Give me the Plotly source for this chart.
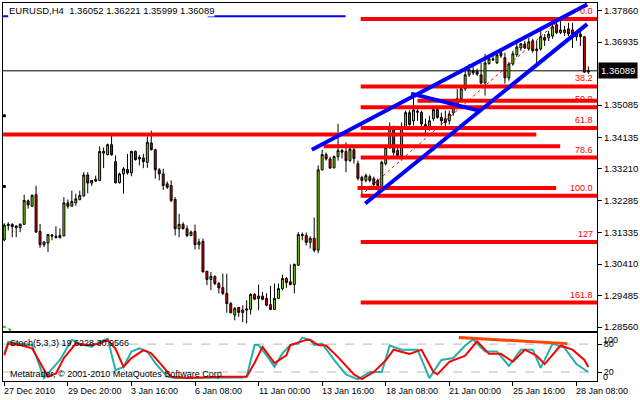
import plotly.graph_objects as go

# ---------------- data ----------------
bars = list(range(148))
opens = [1.3112,1.3154,1.3158,1.3148,1.3148,1.3158,1.3227,1.3211,1.3245,1.3137,
         1.3098,1.3103,1.3127,1.3123,1.3119,1.3124,1.3221,1.3211,1.3221,1.3231,
         1.3241,1.3303,1.3279,1.3285,1.3287,1.3367,1.3363,1.3392,1.3342,1.3280,
         1.3306,1.3319,1.3309,1.3372,1.3350,1.3353,1.3340,1.3397,1.3377,1.3318,
         1.3306,1.3277,1.3272,1.3231,1.3145,1.3158,1.3145,1.3125,1.3137,1.3098,
         1.3108,1.3020,1.2996,1.3005,1.2984,1.2972,1.2955,1.2925,1.2891,1.2914,
         1.2899,1.2906,1.2908,1.2952,1.2940,1.2947,1.2940,1.2922,1.2908,1.2940,
         1.2969,1.2999,1.2989,1.2981,1.3038,1.3128,1.3125,1.3105,1.3117,1.3082,
         1.3318,1.3363,1.3350,1.3324,1.3357,1.3375,1.3372,1.3345,1.3377,1.3336,
         1.3296,1.3287,1.3298,1.3292,1.3287,1.3267,1.3336,1.3384,1.3442,1.3375,
         1.3360,1.3442,1.3486,1.3462,1.3487,1.3487,1.3451,1.3443,1.3468,1.3495,
         1.3472,1.3468,1.3462,1.3486,1.3506,1.3527,1.3556,1.3597,1.3609,1.3607,
         1.3597,1.3574,1.3630,1.3644,1.3632,1.3662,1.3647,1.3588,1.3629,1.3656,
         1.3676,1.3688,1.3673,1.3697,1.3668,1.3673,1.3707,1.3706,1.3711,1.3744,
         1.3721,1.3721,1.3732,1.3729,1.3709,1.3717,1.3709,1.36052]
highs = [1.3161,1.3164,1.3161,1.3155,1.3161,1.3245,1.3231,1.3246,1.3271,1.3159,
         1.3108,1.3129,1.3128,1.3152,1.3146,1.3238,1.3231,1.3257,1.3248,1.3257,
         1.3311,1.3311,1.3288,1.3301,1.3387,1.3384,1.3395,1.3421,1.3360,1.3310,
         1.3326,1.3365,1.3374,1.3375,1.3362,1.3365,1.3416,1.3433,1.3380,1.3323,
         1.3321,1.3284,1.3287,1.3238,1.3189,1.3164,1.3155,1.3140,1.3157,1.3116,
         1.3116,1.3021,1.3018,1.3008,1.2989,1.3013,1.3013,1.2930,1.2915,1.2915,
         1.2920,1.2935,1.2955,1.2956,1.2981,1.2959,1.2955,1.2977,1.2984,1.2984,
         1.3010,1.3003,1.3040,1.3043,1.3135,1.3134,1.3134,1.3123,1.3178,1.3331,
         1.3377,1.3369,1.3357,1.3360,1.3453,1.3379,1.3399,1.3384,1.3389,1.3345,
         1.3301,1.3307,1.3304,1.3298,1.3292,1.3345,1.3389,1.3457,1.3448,1.3383,
         1.3457,1.3492,1.3493,1.3533,1.3506,1.3492,1.3468,1.3477,1.3503,1.3503,
         1.3486,1.3492,1.3492,1.3509,1.3556,1.3562,1.3609,1.3629,1.3621,1.3615,
         1.3632,1.3659,1.3650,1.3659,1.3662,1.3668,1.3662,1.3635,1.3668,1.3697,
         1.3691,1.3697,1.3706,1.3703,1.3697,1.3726,1.3717,1.3726,1.3750,1.3757,
         1.3760,1.3741,1.3750,1.3750,1.3726,1.3726,1.3711,1.36221]
lows = [1.3108,1.3140,1.3120,1.3120,1.3135,1.3156,1.3204,1.3210,1.3134,1.3089,
        1.3091,1.3077,1.3111,1.3116,1.3116,1.3123,1.3204,1.3210,1.3213,1.3228,
        1.3240,1.3249,1.3270,1.3282,1.3285,1.3323,1.3360,1.3360,1.3278,1.3278,
        1.3248,1.3304,1.3299,1.3345,1.3331,1.3323,1.3324,1.3375,1.3292,1.3287,
        1.3259,1.3262,1.3223,1.3125,1.3120,1.3143,1.3120,1.3123,1.3084,1.3084,
        1.3017,1.2979,1.2964,1.2979,1.2955,1.2950,1.2898,1.2897,1.2876,1.2886,
        1.2871,1.2867,1.2893,1.2935,1.2906,1.2935,1.2917,1.2906,1.2906,1.2938,
        1.2964,1.2971,1.2979,1.2955,1.3036,1.3111,1.3096,1.3087,1.3076,1.3073,
        1.3316,1.3345,1.3322,1.3322,1.3345,1.3351,1.3311,1.3342,1.3336,1.3287,
        1.3243,1.3281,1.3281,1.3269,1.3257,1.3263,1.3331,1.3380,1.3360,1.3351,
        1.3345,1.3439,1.3448,1.3448,1.3462,1.3445,1.3419,1.3433,1.3462,1.3468,
        1.3448,1.3439,1.3451,1.3477,1.3503,1.3524,1.3550,1.3591,1.3597,1.3594,
        1.3568,1.3536,1.3627,1.3638,1.3629,1.3647,1.3571,1.3580,1.3624,1.3650,
        1.3668,1.3673,1.3668,1.3662,1.3632,1.3668,1.3682,1.3697,1.3703,1.3717,
        1.3717,1.3711,1.3711,1.3676,1.3697,1.3682,1.3603,1.35999]
closes = [1.3156,1.3158,1.3151,1.3153,1.3158,1.3228,1.3215,1.3243,1.3135,1.3098,
          1.3106,1.3128,1.3124,1.3119,1.3125,1.3221,1.3211,1.3225,1.3233,1.3243,
          1.3303,1.3279,1.3287,1.3290,1.3372,1.3372,1.3392,1.3362,1.3280,1.3306,
          1.3321,1.3309,1.3372,1.3348,1.3355,1.3342,1.3399,1.3377,1.3318,1.3306,
          1.3272,1.3267,1.3228,1.3145,1.3158,1.3145,1.3125,1.3135,1.3098,1.3106,
          1.3018,1.2996,1.3005,1.2984,1.2971,1.2955,1.2925,1.2898,1.2911,1.2899,
          1.2906,1.2909,1.2952,1.2938,1.2947,1.2938,1.2920,1.2908,1.2940,1.2969,
          1.2999,1.2987,1.2981,1.3040,1.3128,1.3125,1.3105,1.3117,1.3082,1.3318,
          1.3363,1.3350,1.3323,1.3357,1.3375,1.3370,1.3345,1.3379,1.3351,1.3293,
          1.3287,1.3301,1.3287,1.3275,1.3272,1.3340,1.3384,1.3443,1.3369,1.3360,
          1.3442,1.3486,1.3451,1.3494,1.3490,1.3453,1.3448,1.3462,1.3495,1.3472,
          1.3462,1.3457,1.3482,1.3503,1.3527,1.3556,1.3597,1.3612,1.3603,1.3599,
          1.3573,1.3632,1.3644,1.3641,1.3656,1.3653,1.3588,1.3629,1.3659,1.3679,
          1.3688,1.3676,1.3694,1.3668,1.3673,1.3709,1.3699,1.3717,1.3738,1.3721,
          1.3729,1.3729,1.3717,1.3717,1.3717,1.3709,1.3605,1.36089]

price_ticks = [1.37860, 1.36935, 1.35085, 1.34135, 1.33210, 1.32285,
               1.31335, 1.30410, 1.29485, 1.28560]
last_price = 1.36089

time_tick_bars = [0, 16, 32, 48, 64, 80, 96, 112, 128, 144]
time_tick_labels = ["27 Dec 2010", "29 Dec 20:00", "3 Jan 16:00", "6 Jan 08:00",
                    "11 Jan 00:00", "13 Jan 16:00", "18 Jan 08:00", "21 Jan 00:00",
                    "25 Jan 16:00", "28 Jan 08:00"]

# Fibonacci levels (drawn from the low of bar ~90 to the high of bar ~140)
fib_names = ["0.0", "38.2", "50.0", "61.8", "78.6", "100.0", "127", "161.8"]
fib_levels = [1.3761, 1.3563, 1.3502, 1.3441, 1.3354, 1.3242, 1.3106, 1.2928]
fib_start_bar, fib_end_bar = 89.7, 140

# other horizontal red lines: price, start bar, end bar
hline_prices = [1.3521, 1.3422, 1.3387, 1.3265]
hline_starts = [104, -0.3, 80.4, 88.9]
hline_ends = [149.2, 133.9, 139.9, 138.9]

# blue trend lines: (bar0, price0, bar1, price1)
trend_x0 = [77.4, 90.85, 102.4]
trend_y0 = [1.3377, 1.3219, 1.3542]
trend_x1 = [146.7, 146.7, 119.4]
trend_y1 = [1.3804, 1.3746, 1.3492]

# stochastic (5,3,3)
stoch_k_bars = [0,1,4,7,10,14,17,19,22,24,26,28,30,32,34,36,38,41,43,50,55,60,61,63,64,
                66,68,70,72,74,75,77,78,80,83,86,89,92,95,97,100,104,107,110,113,116,
                118,121,124,127,130,133,135,138,141,144,147]
stoch_k = [60,85,81,78,7,46,89,81,74,85,92,24,31,64,71,64,39,10,7,8,8,8,10,78,78,
           56,31,60,78,81,94,89,78,81,46,15,4,20,20,77,68,68,7,46,50,77,
           90,64,64,33,68,68,29,81,72,37,19.6]
stoch_d_bars = [0,1,4,7,11,13,15,18,21,24,26,28,30,32,35,37,40,42,46,55,61,63,65,67,68,
                71,72,76,77,79,81,84,88,90,93,96,98,102,105,108,109,112,116,119,122,
                125,128,131,134,136,140,143,146,147]
stoch_d = [56,81,78,71,10,17,50,81,78,81,89,70,31,50,67,60,31,10,7,10,10,40,74,49,39,
           56,78,89,89,78,77,52,15,5,20,45,68,59,68,20,15,42,55,86,59,
           59,42,68,55,37,77,68,46,31]
stoch_levels = [80, 20]

# ---------------- figure ----------------
X0, X1 = -0.325, 149.175
FONT = "Liberation Sans, Arial, sans-serif"

fig = go.Figure()
fig.add_trace(go.Candlestick(
    x=bars, open=opens, high=highs, low=lows, close=closes,
    xaxis="x", yaxis="y", whiskerwidth=0,
    increasing=dict(line=dict(color="black", width=1), fillcolor="#80E000"),
    decreasing=dict(line=dict(color="black", width=1), fillcolor="#DD0000"),
    hoverinfo="skip"))

# little markers at the left edge
fig.add_trace(go.Scatter(x=[0, 0], y=[1.3477, 1.3269], mode="markers",
                         marker=dict(symbol="square", size=3, color="black"),
                         xaxis="x", yaxis="y", hoverinfo="skip"))
fig.add_trace(go.Scatter(x=[-0.3, 1.7], y=[1.2858, 1.2847], mode="lines",
                         line=dict(color="#22BB22", width=2, dash="dot"),
                         xaxis="x", yaxis="y", hoverinfo="skip"))

fig.add_trace(go.Scatter(x=stoch_k_bars, y=stoch_k, mode="lines",
                         line=dict(color="#20B2AA", width=2), xaxis="x2", yaxis="y2",
                         hoverinfo="skip"))
fig.add_trace(go.Scatter(x=stoch_d_bars, y=stoch_d, mode="lines",
                         line=dict(color="#FF0000", width=2), xaxis="x2", yaxis="y2",
                         hoverinfo="skip"))

shapes = []
# current price line
shapes.append(dict(type="line", xref="x", yref="y", x0=X0, x1=X1, y0=last_price,
                   y1=last_price, line=dict(color="black", width=1), layer="below"))
# red horizontal lines
for p, s, e in zip(hline_prices, hline_starts, hline_ends):
    shapes.append(dict(type="line", xref="x", yref="y", x0=s, x1=e, y0=p, y1=p,
                       line=dict(color="#FF0000", width=4)))
for p in fib_levels:
    shapes.append(dict(type="line", xref="x", yref="y", x0=fib_start_bar, x1=X1,
                       y0=p, y1=p, line=dict(color="#FF0000", width=4)))
# fib diagonal
shapes.append(dict(type="line", xref="x", yref="y", x0=fib_start_bar, x1=fib_end_bar,
                   y0=fib_levels[5], y1=fib_levels[0],
                   line=dict(color="#FF0000", width=1, dash="dot")))
# blue trend lines
for a, b, c, d in zip(trend_x0, trend_y0, trend_x1, trend_y1):
    shapes.append(dict(type="line", xref="x", yref="y", x0=a, y0=b, x1=c, y1=d,
                       line=dict(color="#0000FF", width=4)))
# thin blue line near the top
for a, b in [(-0.3, 1.0), (51.2, 85.9)]:
    shapes.append(dict(type="line", xref="x", yref="y", x0=a, x1=b, y0=1.3769,
                       y1=1.3769, line=dict(color="#0000FF", width=2)))
# stochastic levels
for lv in stoch_levels:
    shapes.append(dict(type="line", xref="x2", yref="y2", x0=X0, x1=X1, y0=lv, y1=lv,
                       line=dict(color="#B8B8B8", width=1, dash="dash"), layer="below"))
shapes.append(dict(type="line", xref="x2", yref="y2", x0=114.4, x1=141.7, y0=94, y1=81,
                   line=dict(color="#FF4500", width=3)))

annotations = []
annotations.append(dict(xref="paper", yref="paper", x=0.0084, y=0.9974,
                        xanchor="left", yanchor="top", showarrow=False,
                        text="EURUSD,H4 \u00a01.36052 1.36221 1.35999 1.36089",
                        font=dict(size=9.5, color="black", family=FONT),
                        bgcolor="white", borderpad=0))
for name, p in zip(fib_names, fib_levels):
    annotations.append(dict(xref="x", yref="y", x=148.7, y=p, xanchor="right",
                            yanchor="bottom", yshift=1, showarrow=False, text=name,
                            font=dict(size=9, color="#FF0000", family=FONT)))
annotations.append(dict(xref="paper", yref="y", x=1, y=last_price, xanchor="left",
                        yanchor="middle", xshift=1, showarrow=False, text="1.36089",
                        bgcolor="black", borderpad=2,
                        font=dict(size=9.5, color="white", family=FONT)))
annotations.append(dict(xref="paper", yref="paper", x=0.0084, y=0.1003,
                        xanchor="left", yanchor="middle", showarrow=False,
                        text="Stoch(5,3,3) 19.6228 30.9566",
                        font=dict(size=9, color="black", family=FONT)))
annotations.append(dict(xref="paper", yref="paper", x=0.0084, y=0.0185,
                        xanchor="left", yanchor="middle", showarrow=False,
                        text="Metatrader, \u00a9 2001-2010 MetaQuotes Software Corp.",
                        font=dict(size=9, color="black", family=FONT)))
for txt, py in [("100", 340), ("0", 377)]:
    annotations.append(dict(xref="paper", yref="paper", x=1, y=(381 - py) / 379,
                            xanchor="left", yanchor="middle", xshift=4, showarrow=False,
                            text=txt, font=dict(size=9, color="black", family=FONT)))
for b, t in zip(time_tick_bars, time_tick_labels):
    annotations.append(dict(xref="x", yref="paper", x=b, y=-0.0264, xanchor="left",
                            yanchor="middle", xshift=-2, showarrow=False, text=t,
                            font=dict(size=9, color="black", family=FONT)))

fig.update_layout(
    width=640, height=400,
    margin=dict(l=2, r=40, t=2, b=19),
    paper_bgcolor="white", plot_bgcolor="white", showlegend=False,
    font=dict(family=FONT, size=9, color="black"),
    hovermode=False,
    xaxis=dict(domain=[0, 1], anchor="y", range=[X0, X1], showline=True, mirror=True,
               linecolor="black", linewidth=1, showgrid=False, zeroline=False,
               showticklabels=False, ticks="", rangeslider=dict(visible=False)),
    xaxis2=dict(domain=[0, 1], anchor="y2", matches="x", range=[X0, X1], showline=True,
                mirror=True, linecolor="black", linewidth=1, showgrid=False,
                zeroline=False, tickmode="array", tickvals=time_tick_bars,
                ticks="outside", ticklen=4, tickcolor="black", showticklabels=False),
    yaxis=dict(domain=[0.13193, 1], anchor="x", side="right",
               range=[1.284417, 1.380814], showline=True, mirror=True,
               linecolor="black", linewidth=1, showgrid=False, zeroline=False,
               tickmode="array", tickvals=price_ticks,
               ticktext=[f"{v:.5f}" for v in price_ticks], ticks="outside",
               ticklen=4, tickcolor="black", tickfont=dict(size=9.5, family=FONT)),
    yaxis2=dict(domain=[0, 0.12665], anchor="x2", side="right", range=[0.71, 103.56],
                showline=True, mirror=True, linecolor="black", linewidth=1,
                showgrid=False, zeroline=False, tickmode="array", tickvals=[80, 20],
                ticktext=["80", "20"], ticks="outside", ticklen=4, tickcolor="black",
                tickfont=dict(size=9, family=FONT)),
    shapes=shapes, annotations=annotations,
)

fig.write_html("out.html", config={"displayModeBar": False},
               post_script="document.body.style.margin='0';")
